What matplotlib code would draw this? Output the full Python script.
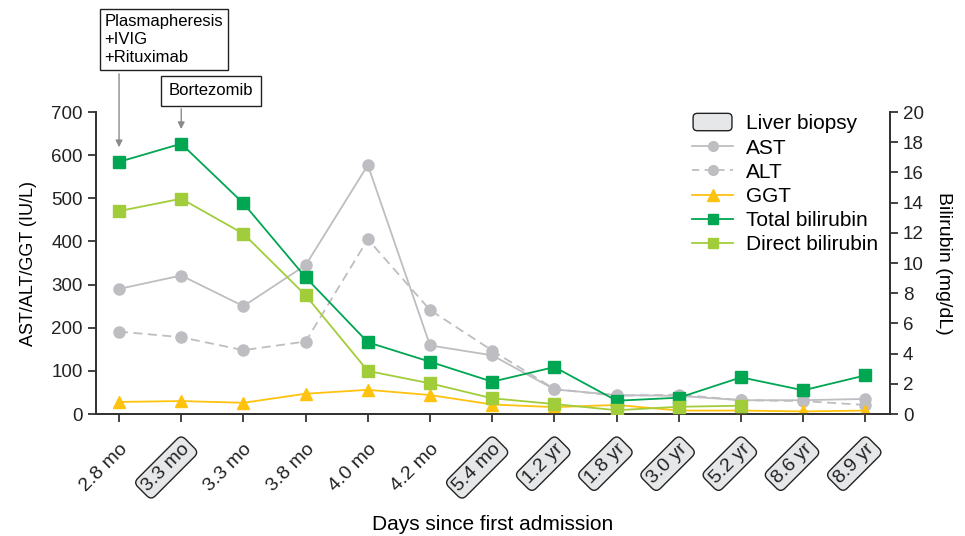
import matplotlib
matplotlib.use("Agg")
import matplotlib.pyplot as plt
import matplotlib.patches as mpatches
from matplotlib.legend_handler import HandlerPatch
from matplotlib.lines import Line2D
import numpy as np

plt.rcParams['font.family'] = ['Liberation Sans', 'DejaVu Sans']

labels = ['2.8 mo', '3.3 mo', '3.3 mo', '3.8 mo', '4.0 mo', '4.2 mo', '5.4 mo',
          '1.2 yr', '1.8 yr', '3.0 yr', '5.2 yr', '8.6 yr', '8.9 yr']
biopsy = [False, True, False, False, False, False, True,
          True, True, True, True, True, True]

ast = [290, 321, 250, 345, 577, 159, 136, 57, 44, 42, 32, 32, 35]
alt = [191, 178, 148, 168, 405, 241, 147, 58, 42, 45, 32, 30, 21]
ggt = [28, 30, 26, 47, 56, 44, 22, 16, 21, 8, 8, 6, 8]
tbil = [16.7, 17.9, 13.95, 9.05, 4.75, 3.46, 2.14, 3.11, 0.88, 1.08, 2.43, 1.57, 2.56]
dbil = [13.44, 14.26, 11.94, 7.86, 2.85, 2.03, 1.04, 0.66, 0.25, 0.48, 0.55, np.nan, np.nan]

gray = '#bebec2'
yellow = '#ffc20e'
dgreen = '#00a651'
lgreen = '#a2cd3a'
boxgray = '#e6e7e8'

fig = plt.figure(figsize=(9.65, 5.36), dpi=100)
ax = fig.add_axes([0.0995, 0.2276, 0.8225, 0.5634])
ax2 = ax.twinx()

x = np.arange(len(labels))

ax.plot(x, ast, color=gray, marker='o', ms=8, lw=1.3, zorder=3)
ax.plot(x, alt, color=gray, marker='o', ms=8, lw=1.3, ls=(0, (5, 3)), zorder=3)
ax.plot(x, ggt, color=yellow, marker='^', ms=9, lw=1.3, zorder=3)
ax2.plot(x, tbil, color=dgreen, marker='s', ms=8, lw=1.3, zorder=3)
ax2.plot(x, dbil, color=lgreen, marker='s', ms=8, lw=1.3, zorder=3)

ax.set_xlim(-0.37, 12.39)
ax.set_ylim(0, 700)
ax2.set_ylim(0, 20)
ax.set_yticks(range(0, 701, 100))
ax2.set_yticks(range(0, 21, 2))

for a in (ax, ax2):
    a.spines['top'].set_visible(False)
    for s in a.spines.values():
        s.set_linewidth(1.3)
        s.set_color('#333333')
    a.tick_params(direction='out', length=6, width=1.2, labelsize=13.5, colors='#222222')

ax.set_xticks(x)
ax.set_xticklabels(labels, rotation=45, ha='right', rotation_mode='anchor', fontsize=14)
ax.tick_params(axis='x', pad=13)
for t, b in zip(ax.get_xticklabels(), biopsy):
    if b:
        t.set_bbox(dict(boxstyle='round,pad=0.2,rounding_size=0.3', fc=boxgray, ec='#222222', lw=1))

ax.set_ylabel('AST/ALT/GGT (IU/L)', fontsize=13, labelpad=10)
ax2.set_ylabel('Bilirubin (mg/dL)', fontsize=14, rotation=-90, labelpad=20)
ax.set_xlabel('Days since first admission', fontsize=15, labelpad=15)

# treatment annotations (boxes sit above the axes, in data units)
ax.text(-0.23, 808, 'Plasmapheresis\n+IVIG\n+Rituximab', fontsize=12,
        ha='left', va='bottom', linespacing=1.25,
        bbox=dict(boxstyle='square,pad=0.3', fc='white', ec='#222222', lw=1))
ax.annotate('', xy=(0, 612), xytext=(0, 795), xycoords='data', textcoords='data',
            arrowprops=dict(arrowstyle='-|>', color='#8a8a8a', lw=1, mutation_scale=10),
            annotation_clip=False)
ax.text(0.8, 749, 'Bortezomib', fontsize=12, ha='left', va='center',
        bbox=dict(boxstyle='square,pad=0.45', fc='white', ec='#222222', lw=1))
ax.annotate('', xy=(1, 654), xytext=(1, 714), xycoords='data', textcoords='data',
            arrowprops=dict(arrowstyle='-|>', color='#8a8a8a', lw=1, mutation_scale=10),
            annotation_clip=False)


def make_round(legend, orig_handle, xdescent, ydescent, width, height, fontsize):
    return mpatches.FancyBboxPatch((-xdescent + 1, -ydescent - 1), width - 2, height + 2,
                                   boxstyle='round,pad=0,rounding_size=3',
                                   fc=boxgray, ec='#222222', lw=1)


handles = [
    mpatches.Patch(fc=boxgray, ec='#222222', label='Liver biopsy'),
    Line2D([], [], color=gray, marker='o', ms=7, lw=1.3, label='AST'),
    Line2D([], [], color=gray, marker='o', ms=7, lw=1.3, ls=(0, (4, 3)), label='ALT'),
    Line2D([], [], color=yellow, marker='^', ms=8, lw=1.3, label='GGT'),
    Line2D([], [], color=dgreen, marker='s', ms=7, lw=1.3, label='Total bilirubin'),
    Line2D([], [], color=lgreen, marker='s', ms=7, lw=1.3, label='Direct bilirubin'),
]
ax.legend(handles=handles, loc='upper left', bbox_to_anchor=(0.74, 1.02),
          frameon=False, fontsize=15, handlelength=2.0, handletextpad=0.6,
          labelspacing=0.25, borderaxespad=0,
          handler_map={mpatches.Patch: HandlerPatch(patch_func=make_round)})

fig.savefig('out.png', dpi=100)
